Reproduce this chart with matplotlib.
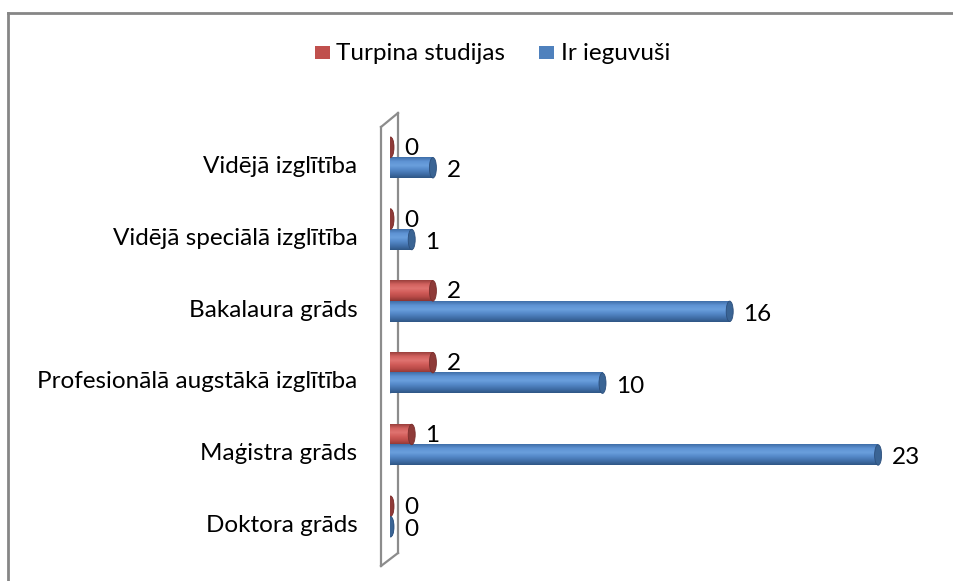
import matplotlib.pyplot as plt, numpy as np
from matplotlib.patches import Ellipse, Rectangle
from matplotlib.lines import Line2D
from matplotlib.colors import to_rgb

categories = ["Vidējā izglītība", "Vidējā speciālā izglītība", "Bakalaura grāds",
              "Profesionālā augstākā izglītība", "Maģistra grāds", "Doktora grāds"]
turpina = [0, 0, 2, 2, 1, 0]
ieguvusi = [2, 1, 16, 10, 23, 0]
series_names = ["Turpina studijas", "Ir ieguvuši"]

plt.rcParams['font.family'] = ['Lato', 'DejaVu Sans']
FS = 17.5

W, H = 954, 581
fig = plt.figure(figsize=(W / 100, H / 100), dpi=100)


def px(x, y):
    # pixel coords (from top-left) -> figure fraction
    return x / W, 1 - y / H


# axes: value 0 at x=390.5px, 21.2 px per unit; first category at y=157.5px, 71.8 px step
x0, sx = 390.5, 21.2
y0, sy = 157.5, 71.8
top_px, bot_px = 100, 570
ax = fig.add_axes([x0 / W, 1 - bot_px / H, 25 * sx / W, (bot_px - top_px) / H])
ax.axis("off")

# back wall (3D side wall)
wall_col = "#8c8c8c"
for (xa, ya), (xb, yb) in [((381, 127), (381, 566)), ((398, 113), (398, 553)),
                           ((381, 127), (398, 113)), ((381, 566), (398, 553))]:
    (fa, ga), (fb, gb) = px(xa, ya), px(xb, yb)
    ax.add_line(Line2D([fa, fb], [ga, gb], transform=fig.transFigure, color=wall_col,
                       lw=1.6, clip_on=False, zorder=0))

bh = 20.5 / sy          # bar thickness in category units
cap_w = 7 / sx          # cap ellipse width in value units

styles = {
    "red": dict(stops=["#9a3f3c", "#d2625f", "#e07370", "#d05b58", "#b94b48", "#8a3533"],
                cap="#8e3a38", edge="#7a2f2d"),
    "blue": dict(stops=["#3f6ea8", "#5e93d4", "#6a9fdd", "#5488c8", "#416fa9", "#2f5685"],
                 cap="#3a6494", edge="#2c4f7c"),
}


def gradient(stops, n=64):
    cols = np.array([to_rgb(c) for c in stops])
    t = np.linspace(0, 1, n)
    pos = np.linspace(0, 1, len(stops))
    return np.stack([np.interp(t, pos, cols[:, k]) for k in range(3)], axis=1)


def cylinder(val, yc, st):
    g = gradient(st["stops"])
    mid = g[len(g) // 2]
    # rounded left end
    ax.add_patch(Ellipse((0, yc), cap_w, bh, facecolor=mid, edgecolor="none", zorder=2))
    if val > 0:
        ax.imshow(g[:, None, :], extent=[0, val, yc + bh / 2, yc - bh / 2],
                  aspect="auto", interpolation="bilinear", zorder=3)
    ax.add_patch(Ellipse((val, yc), cap_w, bh, facecolor=st["cap"],
                         edgecolor=st["edge"], lw=0.6, zorder=4))


ypos = np.arange(len(categories))
for i, (r, b) in enumerate(zip(turpina, ieguvusi)):
    cylinder(r, ypos[i] - bh / 2, styles["red"])
    cylinder(b, ypos[i] + bh / 2, styles["blue"])
    ax.text(r + (cap_w / 2) + 10 / sx, ypos[i] - bh / 2 + 1 / sy, str(r),
            ha="left", va="center", fontsize=FS, color="black", zorder=5)
    ax.text(b + (cap_w / 2) + 10 / sx, ypos[i] + bh / 2 + 3 / sy, str(b),
            ha="left", va="center", fontsize=FS, color="black", zorder=5)
    ax.text(-33 / sx, ypos[i] + 9 / sy, categories[i], ha="right", va="center",
            fontsize=FS, color="black", clip_on=False)

ax.set_xlim(0, 25)
ax.set_ylim((bot_px - y0) / sy, (top_px - y0) / sy)

# legend
for (sqx, tx), name, col in zip([(315, 336), (539, 561)], series_names, ["#c0504d", "#4f81bd"]):
    fx, fy = px(sqx, 59)
    fig.add_artist(Rectangle((fx, fy), 15 / W, 13 / H, transform=fig.transFigure,
                             facecolor=col, edgecolor="none"))
    tfx, tfy = px(tx, 53)
    fig.text(tfx, tfy, name, ha="left", va="center", fontsize=FS, color="black")

# chart border (only top and left edges are inside the picture)
fig.add_artist(Line2D([px(8, 0)[0], px(8, 0)[0]], [px(0, 12.5)[1], 0], transform=fig.transFigure,
                      color="#868686", lw=2))
fig.add_artist(Line2D([px(8, 0)[0], 1], [px(0, 12.5)[1], px(0, 12.5)[1]], transform=fig.transFigure,
                      color="#868686", lw=2))

fig.savefig("out.png", dpi=100)
